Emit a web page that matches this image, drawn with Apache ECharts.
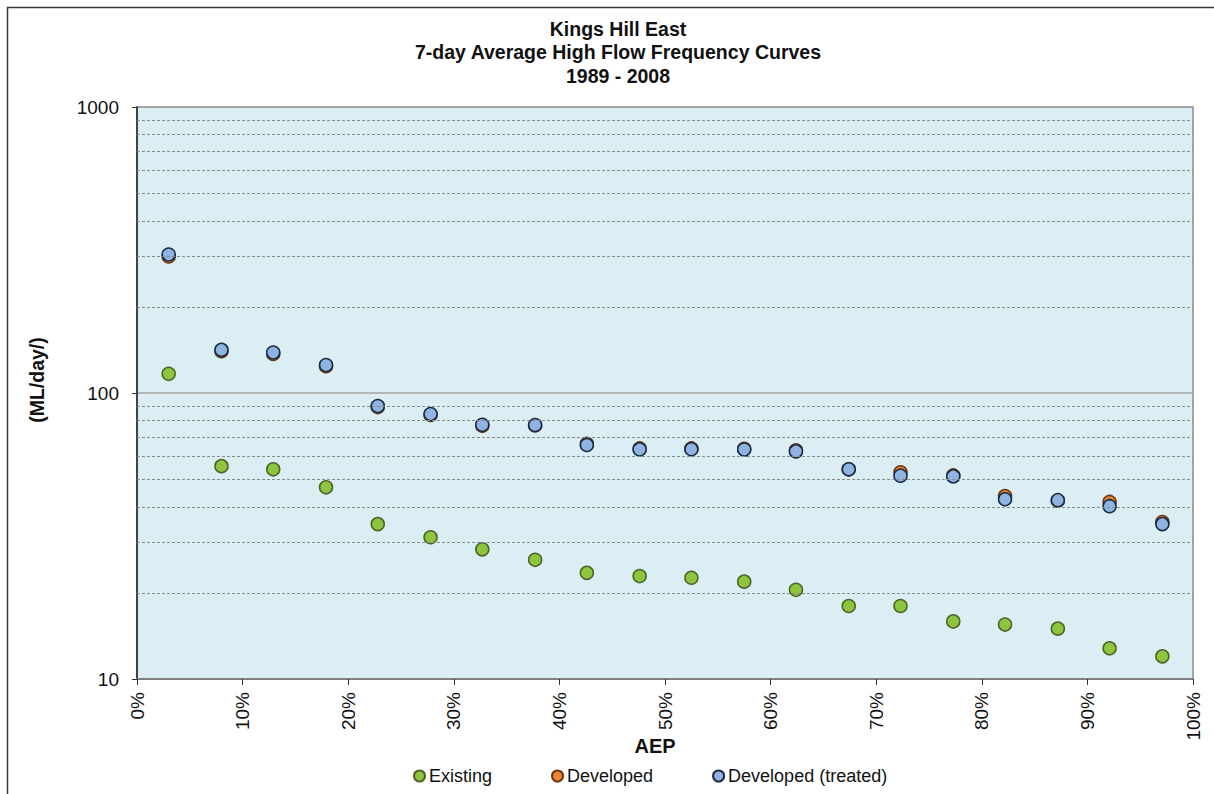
<!DOCTYPE html>
<html>
<head>
<meta charset="utf-8">
<title>Kings Hill East - 7-day Average High Flow Frequency Curves</title>
<script src="https://cdn.jsdelivr.net/npm/echarts@6/dist/echarts.min.js"></script>
<style>
  html, body { margin: 0; padding: 0; background: #ffffff; }
  #chart { width: 1214px; height: 794px; }
</style>
</head>
<body>
<div id="chart"></div>
<script>
// Annual exceedance probability (%) of each ranked 7-day high flow
const aep = [3.0, 8.0, 12.9, 17.9, 22.8, 27.8, 32.7, 37.7, 42.6, 47.6,
             52.5, 57.5, 62.4, 67.4, 72.3, 77.3, 82.2, 87.2, 92.1, 97.1];

// 7-day average flows, ML/day
const existing = [116.7, 55.5, 54.1, 46.8, 34.8, 31.3, 28.4, 26.1, 23.5, 22.9,
                  22.6, 21.9, 20.5, 18.0, 18.0, 15.9, 15.5, 15.0, 12.8, 12.0];
const developed = [300, 140, 137, 124, 89.3, 83.8, 76.8, 77.0, 66.4, 64.0,
                   64.0, 63.8, 63.0, 54.1, 52.8, 51.5, 43.6, 42.0, 41.6, 35.4];
const developedTreated = [305, 141.5, 138.6, 125.2, 90.0, 84.4, 77.4, 77.3, 65.8, 63.5,
                          63.6, 63.4, 62.5, 54.1, 51.4, 51.1, 42.5, 42.2, 40.2, 34.8];

// Minor gridlines of the logarithmic flow axis
const minorGrid = [20, 30, 40, 50, 60, 70, 80, 90, 200, 300, 400, 500, 600, 700, 800, 900];

const titleLines = ['Kings Hill East', '7-day Average High Flow Frequency Curves', '1989 - 2008'];

const FONT = '"Liberation Sans", Arial, Helvetica, sans-serif';

function pairs(xs, ys) {
  return xs.map((x, i) => [x, ys[i]]);
}

function pointSeries(name, values, fill, border) {
  return {
    name: name,
    type: 'scatter',
    z: 3,
    symbol: 'circle',
    symbolSize: 13,
    itemStyle: { color: fill, borderColor: border, borderWidth: 1.5, opacity: 1 },
    emphasis: { disabled: true },
    data: pairs(aep, values)
  };
}

const chart = echarts.init(document.getElementById('chart'), null, { renderer: 'svg' });

chart.setOption({
  animation: false,
  backgroundColor: '#ffffff',
  textStyle: { fontFamily: FONT },
  graphic: [
    {
      type: 'rect',
      silent: true,
      shape: { x: 7.5, y: 7.5, width: 1400, height: 1000 },
      style: { fill: 'none', stroke: '#3a3a3a', lineWidth: 1.5 }
    },
    {
      type: 'text',
      silent: true,
      x: 618,
      y: 17,
      style: {
        text: titleLines.join('\n'),
        fill: '#111111',
        font: 'bold 19.5px ' + FONT,
        lineHeight: 23.5,
        align: 'center',
        verticalAlign: 'top'
      }
    },
    {
      type: 'text',
      silent: true,
      x: 37,
      y: 380,
      rotation: Math.PI / 2,
      style: {
        text: '(ML/day/)',
        fill: '#111111',
        font: 'bold 19.5px ' + FONT,
        align: 'center',
        verticalAlign: 'middle'
      }
    },
    {
      type: 'text',
      silent: true,
      x: 655,
      y: 746,
      style: {
        text: 'AEP',
        fill: '#111111',
        font: 'bold 20px ' + FONT,
        align: 'center',
        verticalAlign: 'middle'
      }
    }
  ],
  legend: {
    data: ['Existing', 'Developed', 'Developed (treated)'],
    left: 413,
    top: 767,
    padding: 0,
    icon: 'circle',
    itemWidth: 11,
    itemHeight: 11,
    itemGap: 59,
    selectedMode: false,
    textStyle: { fontSize: 18, color: '#111111', fontFamily: FONT, padding: [0, 0, 0, -1] }
  },
  grid: {
    left: 137,
    right: 21,
    top: 107,
    bottom: 115,
    show: true,
    backgroundColor: '#DAEEF3',
    borderColor: '#8c8c8c',
    borderWidth: 1.5
  },
  xAxis: {
    type: 'value',
    min: 0,
    max: 100,
    interval: 10,
    axisLine: { show: true, lineStyle: { color: '#808080', width: 2 } },
    axisTick: { show: true, inside: false, length: 6, lineStyle: { color: '#333333', width: 1 } },
    axisLabel: {
      rotate: 90,
      margin: 13,
      fontSize: 19,
      color: '#111111',
      fontFamily: FONT,
      formatter: '{value}%'
    },
    splitLine: { show: false }
  },
  yAxis: {
    type: 'log',
    logBase: 10,
    min: 10,
    max: 1000,
    axisLine: { show: true, onZero: false, lineStyle: { color: '#222222', width: 1.5 } },
    axisTick: { show: true, inside: false, length: 5, lineStyle: { color: '#333333', width: 1 } },
    axisLabel: {
      margin: 18,
      fontSize: 19,
      color: '#111111',
      fontFamily: FONT,
      formatter: v => String(Math.round(v))
    },
    splitLine: { show: true, lineStyle: { color: '#a3a3a3', width: 1.5, type: 'solid' } }
  },
  series: [
    {
      name: 'minor-grid',
      type: 'scatter',
      z: 1,
      silent: true,
      data: [],
      markLine: {
        silent: true,
        symbol: 'none',
        animation: false,
        label: { show: false },
        lineStyle: { color: '#8a8a8a', width: 1, type: [3, 2] },
        emphasis: { disabled: true },
        data: minorGrid.map(v => ({ yAxis: v }))
      }
    },
    pointSeries('Existing', existing, '#8CC63F', '#4F6228'),
    pointSeries('Developed', developed, '#EE8332', '#6B3A12'),
    pointSeries('Developed (treated)', developedTreated, '#8DB4E2', '#1B2A44')
  ]
});
</script>
</body>
</html>
